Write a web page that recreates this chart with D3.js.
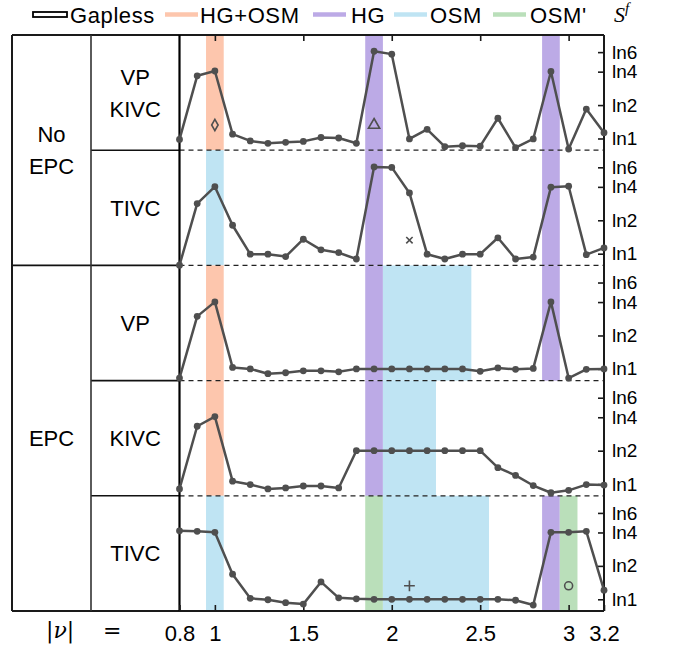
<!DOCTYPE html>
<html>
<head>
<meta charset="utf-8">
<script src="https://cdn.jsdelivr.net/npm/d3@7"></script>
<style>
  body { margin: 0; background: #fff; }
  text { font-family: "Liberation Sans", Arial, sans-serif; fill: #000; }
</style>
</head>
<body>
<div class="chart"></div>
<script>
// x positions (|nu|) shared by every panel
let nu = [0.8, 0.9, 1.0, 1.1, 1.2, 1.3, 1.4, 1.5, 1.6, 1.7, 1.8, 1.9, 2.0,
          2.1, 2.2, 2.3, 2.4, 2.5, 2.6, 2.7, 2.8, 2.9, 3.0, 3.1, 3.2];

// S^f values (natural-log units)
let noEpcVpKivc = [-0.02, 1.30, 1.40, 0.09, -0.05, -0.10, -0.08, -0.06, 0.02, 0.01, -0.10, 1.81, 1.75,
                   -0.01, 0.19, -0.17, -0.15, -0.16, 0.42, -0.19, -0.01, 1.39, -0.22, 0.61, 0.12];
let noEpcTivc = [-0.24, 1.04, 1.39, 0.59, -0.01, -0.01, -0.06, 0.30, 0.08, 0.02, -0.11, 1.80, 1.79,
                 1.26, -0.01, -0.11, -0.01, -0.01, 0.33, -0.11, -0.07, 1.38, 1.40, -0.02, 0.12];
let epcVp = [-0.19, 1.09, 1.39, 0.03, 0.00, -0.10, -0.08, -0.04, -0.04, -0.06, 0.00, 0.00, 0.00,
             0.00, 0.00, 0.00, 0.00, -0.05, 0.02, -0.01, 0.01, 1.39, -0.19, -0.01, 0.00];
let epcKivc = [-0.10, 1.20, 1.40, 0.06, -0.01, -0.10, -0.08, -0.04, -0.04, -0.08, 0.693, 0.693, 0.693,
               0.693, 0.693, 0.693, 0.693, 0.693, 0.34, 0.18, -0.03, -0.18, -0.13, -0.01, -0.02];
let epcTivc = [1.42, 1.41, 1.39, 0.52, 0.02, -0.01, -0.07, -0.10, 0.36, 0.03, 0.01, 0.00, 0.00,
               0.00, 0.00, 0.00, 0.00, 0.00, 0.00, -0.02, -0.12, 1.39, 1.39, 1.41, 0.19];

let panelSeries = [noEpcVpKivc, noEpcTivc, epcVp, epcKivc, epcTivc];
let panelLabels = [["VP", "KIVC"], ["TIVC"], ["VP"], ["KIVC"], ["TIVC"]];
let groupLabels = [["No", "EPC"], ["EPC"]];
let groupSpans = [[0, 2], [2, 5]];

// shaded phase regions: [from, to, phase]
let panelBands = [
  [[0.95, 1.05, "HG+OSM"], [1.85, 1.95, "HG"], [2.85, 2.95, "HG"]],
  [[0.95, 1.05, "OSM"], [1.85, 1.95, "HG"], [2.85, 2.95, "HG"]],
  [[0.95, 1.05, "HG+OSM"], [1.85, 1.95, "HG"], [1.95, 2.45, "OSM"], [2.85, 2.95, "HG"]],
  [[0.95, 1.05, "HG+OSM"], [1.85, 1.95, "HG"], [1.95, 2.25, "OSM"]],
  [[0.95, 1.05, "OSM"], [1.85, 1.95, "OSM'"], [1.95, 2.55, "OSM"], [2.85, 2.95, "HG"], [2.95, 3.05, "OSM'"]]
];

let phases = ["HG+OSM", "HG", "OSM", "OSM'"];
let phaseColors = ["#fdc6ad", "#bcaae6", "#bfe4f3", "#badfba"];

// small symbols: [panel, nu, S, kind]
let markers = [[0, 1.0, 0.28, "diamond"], [0, 1.9, 0.28, "triangle"], [1, 2.1, 0.28, "cross"],
               [4, 2.1, 0.28, "plus"], [4, 3.0, 0.28, "circle"]];

let xTicks = [0.8, 1, 1.5, 2, 2.5, 3, 3.2];
let yTickValues = [Math.log(1), Math.log(2), Math.log(4), Math.log(6)];
let yTickLabels = ["ln1", "ln2", "ln4", "ln6"];

let margin = { top: 35, left: 12, bottom: 611 };
let colDiv = 91;
let plotLeft = 179.5;
let plotRight = 604;
let panelH = (margin.bottom - margin.top) / 5;

let svg = d3.select(".chart").append("svg")
  .attr("width", 673)
  .attr("height", 650);

let xScale = d3.scaleLinear().domain([0.8, 3.2]).range([plotLeft, plotRight]);
let color = d3.scaleOrdinal().domain(phases).range(phaseColors);

function yScaleFor(i) {
  let y0 = margin.top + i * panelH;
  return d3.scaleLinear().domain([-0.243, 2.147]).range([y0 + panelH, y0]);
}

// bands
panelBands.forEach((bands, i) => {
  let y = yScaleFor(i);
  svg.append("g").selectAll("rect")
    .data(bands)
    .enter()
    .append("rect")
    .attr("x", d => xScale(d[0]))
    .attr("width", d => xScale(d[1]) - xScale(d[0]))
    .attr("y", y.range()[1])
    .attr("height", panelH)
    .attr("fill", d => color(d[2]));
});

// dashed separators inside plot
for (let i = 1; i < 5; i++) {
  let yy = margin.top + i * panelH;
  svg.append("line")
    .attr("x1", plotLeft).attr("x2", plotRight)
    .attr("y1", yy).attr("y2", yy)
    .attr("stroke", "#222").attr("stroke-width", 1.3)
    .attr("stroke-dasharray", "5,4");
  // solid part in the label table
  svg.append("line")
    .attr("x1", i === 2 ? margin.left : colDiv).attr("x2", plotLeft)
    .attr("y1", yy).attr("y2", yy)
    .attr("stroke", "#111").attr("stroke-width", 1.6);
}

// frame
svg.append("line").attr("x1", margin.left).attr("x2", plotRight)
  .attr("y1", margin.top).attr("y2", margin.top)
  .attr("stroke", "#1a1a1a").attr("stroke-width", 2);
svg.append("line").attr("x1", margin.left).attr("x2", plotRight)
  .attr("y1", margin.bottom).attr("y2", margin.bottom)
  .attr("stroke", "#1a1a1a").attr("stroke-width", 2);
svg.append("line").attr("x1", margin.left).attr("x2", margin.left)
  .attr("y1", margin.top).attr("y2", margin.bottom)
  .attr("stroke", "#1a1a1a").attr("stroke-width", 2);
svg.append("line").attr("x1", colDiv).attr("x2", colDiv)
  .attr("y1", margin.top).attr("y2", margin.bottom)
  .attr("stroke", "#333").attr("stroke-width", 1.6);
svg.append("line").attr("x1", plotLeft).attr("x2", plotLeft)
  .attr("y1", margin.top).attr("y2", margin.bottom)
  .attr("stroke", "#000").attr("stroke-width", 2.2);
svg.append("line").attr("x1", plotRight).attr("x2", plotRight)
  .attr("y1", margin.top).attr("y2", margin.bottom)
  .attr("stroke", "#1a1a1a").attr("stroke-width", 2);

// bottom axis with labels, ticks pointing inward
let xAxis = svg.append("g")
  .attr("transform", `translate(0,${margin.bottom})`)
  .call(d3.axisBottom(xScale).tickValues(xTicks).tickFormat(d => d)
    .tickSizeInner(-6).tickSizeOuter(0).tickPadding(14));
xAxis.select(".domain").remove();
xAxis.selectAll("line").attr("stroke", "#1a1a1a").attr("stroke-width", 1.6);
xAxis.selectAll("text").attr("font-size", 22)
  .attr("font-family", "'Liberation Sans', Arial, sans-serif").attr("fill", "#000");

// top axis ticks only
let xTop = svg.append("g")
  .attr("transform", `translate(0,${margin.top})`)
  .call(d3.axisTop(xScale).tickValues(xTicks.slice(1, -1)).tickFormat("")
    .tickSizeInner(-6).tickSizeOuter(0));
xTop.select(".domain").remove();
xTop.selectAll("line").attr("stroke", "#1a1a1a").attr("stroke-width", 1.6);

// right axis for each panel
panelSeries.forEach((vals, i) => {
  let y = yScaleFor(i);
  let ax = svg.append("g")
    .attr("transform", `translate(${plotRight},0)`)
    .call(d3.axisRight(y).tickValues(yTickValues).tickFormat((d, k) => yTickLabels[k])
      .tickSizeInner(-6).tickSizeOuter(0).tickPadding(8));
  ax.select(".domain").remove();
  ax.selectAll("line").attr("stroke", "#1a1a1a").attr("stroke-width", 1.6);
  ax.selectAll("text").attr("font-size", 19)
    .attr("font-family", "'Liberation Sans', Arial, sans-serif").attr("fill", "#000");
});

// data lines
let lineColor = "#4f4f4f";
panelSeries.forEach((vals, i) => {
  let y = yScaleFor(i);
  let pts = nu.map((n, k) => ({ n: n, s: vals[k] }));
  let line = d3.line().x(d => xScale(d.n)).y(d => y(d.s));
  let g = svg.append("g");
  g.append("path")
    .attr("d", line(pts))
    .attr("fill", "none")
    .attr("stroke", lineColor)
    .attr("stroke-width", 2.5)
    .attr("stroke-linejoin", "round");
  g.selectAll("circle")
    .data(pts)
    .enter()
    .append("circle")
    .attr("cx", d => xScale(d.n))
    .attr("cy", d => y(d.s))
    .attr("r", 3.4)
    .attr("fill", lineColor);
});

// symbols
let symbolTypes = {
  diamond: [d3.symbolDiamond, 36],
  triangle: [d3.symbolTriangle, 55],
  cross: [d3.symbolTimes, 28],
  plus: [d3.symbolCross2 || d3.symbolPlus, 40],
  circle: [d3.symbolCircle, 50]
};
svg.append("g").selectAll("path")
  .data(markers)
  .enter()
  .append("path")
  .attr("transform", d => `translate(${xScale(d[1])},${yScaleFor(d[0])(d[2])})`)
  .attr("d", d => d3.symbol().type(symbolTypes[d[3]][0]).size(symbolTypes[d[3]][1])())
  .attr("fill", "none")
  .attr("stroke", lineColor)
  .attr("stroke-width", 1.6);

// table labels
panelLabels.forEach((lines, i) => {
  let cy = margin.top + (i + 0.5) * panelH;
  let t = svg.append("text")
    .attr("text-anchor", "middle")
    .attr("font-size", 22);
  lines.forEach((s, k) => {
    t.append("tspan")
      .attr("x", (colDiv + plotLeft) / 2)
      .attr("y", cy + 8 + (k - (lines.length - 1) / 2) * 32)
      .text(s);
  });
});
groupLabels.forEach((lines, gi) => {
  let span = groupSpans[gi];
  let cy = margin.top + (span[0] + span[1]) / 2 * panelH;
  let t = svg.append("text")
    .attr("text-anchor", "middle")
    .attr("font-size", 22);
  lines.forEach((s, k) => {
    t.append("tspan")
      .attr("x", (margin.left + colDiv) / 2)
      .attr("y", cy + 8 + (k - (lines.length - 1) / 2) * 32)
      .text(s);
  });
});

// |nu| = label
let nuLabel = svg.append("text")
  .attr("x", 46).attr("y", 638)
  .attr("font-size", 22)
  .style("font-family", "'DejaVu Serif', 'Liberation Serif', serif");
nuLabel.append("tspan").text("|");
nuLabel.append("tspan").attr("font-style", "italic").text("ν");
nuLabel.append("tspan").text("|");
nuLabel.append("tspan").attr("x", 103).text("=");

// legend
let legend = svg.append("g");
legend.append("rect")
  .attr("x", 33).attr("y", 12).attr("width", 34).attr("height", 5)
  .attr("fill", "#fff").attr("stroke", "#000").attr("stroke-width", 1.8);
legend.append("text").attr("x", 70).attr("y", 22.5).attr("font-size", 22)
  .attr("letter-spacing", 0.6).text("Gapless");
let legendX = [[165, 200], [313, 351], [394, 430], [493, 530]];
phases.forEach((p, k) => {
  legend.append("line")
    .attr("x1", legendX[k][0]).attr("x2", legendX[k][0] + 33)
    .attr("y1", 14.5).attr("y2", 14.5)
    .attr("stroke", phaseColors[k]).attr("stroke-width", 4.5);
  legend.append("text").attr("x", legendX[k][1]).attr("y", 22.5)
    .attr("font-size", 22).attr("letter-spacing", 0.6).text(p);
});
let sf = legend.append("text").attr("x", 614).attr("y", 22)
  .attr("font-size", 22)
  .style("font-family", "'Liberation Serif', 'DejaVu Serif', serif");
sf.append("tspan").attr("font-style", "italic").text("S");
sf.append("tspan").attr("font-style", "italic").attr("font-size", 15).attr("dy", -9).text("f");
</script>
</body>
</html>
